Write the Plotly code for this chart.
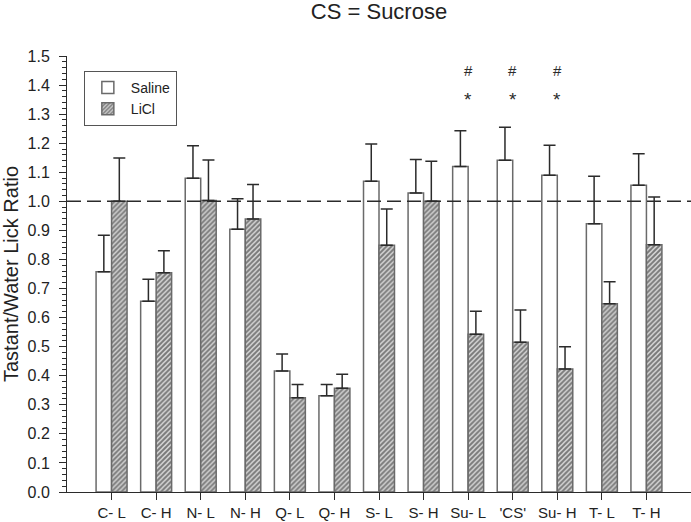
import plotly.graph_objects as go

categories = ["C- L", "C- H", "N- L", "N- H", "Q- L", "Q- H", "S- L", "S- H",
              "Su- L", "'CS'", "Su- H", "T- L", "T- H"]
saline_mean = [0.758, 0.656, 1.079, 0.904, 0.416, 0.331, 1.069, 1.029, 1.120, 1.141, 1.090, 0.923, 1.055]
saline_top = [0.883, 0.732, 1.191, 1.009, 0.475, 0.370, 1.197, 1.144, 1.243, 1.255, 1.193, 1.086, 1.164]
licl_mean = [1.000, 0.754, 1.003, 0.939, 0.324, 0.357, 0.849, 1.000, 0.543, 0.515, 0.423, 0.648, 0.851]
licl_top = [1.149, 0.830, 1.142, 1.058, 0.370, 0.405, 0.974, 1.138, 0.622, 0.626, 0.500, 0.723, 1.015]
hash_marks = ["Su- L", "'CS'", "Su- H"]
star_marks = ["Su- L", "'CS'", "Su- H"]
y_ticks = [round(i * 0.1, 1) for i in range(16)]

FONT = "Liberation Sans, Arial, sans-serif"
DARK = "#2b2b2b"
EDGE = "#6a6a6a"

fig = go.Figure()
fig.add_trace(go.Bar(
    name="Saline", x=categories, y=saline_mean,
    marker=dict(color="white", line=dict(color=EDGE, width=1.5)),
    error_y=dict(type="data", symmetric=False,
                 array=[t - m for t, m in zip(saline_top, saline_mean)],
                 arrayminus=[0] * len(saline_mean),
                 color=DARK, thickness=1.5, width=6),
))
fig.add_trace(go.Bar(
    name="LiCl", x=categories, y=licl_mean,
    marker=dict(color="white", line=dict(color=EDGE, width=1.5),
                pattern=dict(shape="/", size=3.5, solidity=0.55,
                             fgcolor="#1e1e1e", bgcolor="#d4d4d4")),
    error_y=dict(type="data", symmetric=False,
                 array=[t - m for t, m in zip(licl_top, licl_mean)],
                 arrayminus=[0] * len(licl_mean),
                 color=DARK, thickness=1.5, width=6),
))

fig.add_shape(type="line", xref="paper", x0=0, x1=1, yref="y", y0=1.0, y1=1.0,
              line=dict(color=DARK, width=1.5, dash="14px,6px"), layer="above")

for c in hash_marks:
    fig.add_annotation(x=c, y=1.449, text="#", showarrow=False,
                       font=dict(family=FONT, size=15, color=DARK))
for c in star_marks:
    fig.add_annotation(x=c, y=1.350, text="*", showarrow=False,
                       font=dict(family=FONT, size=19, color=DARK))

fig.update_layout(
    width=691, height=522,
    margin=dict(l=67, r=0, t=56, b=30),
    paper_bgcolor="white", plot_bgcolor="white",
    font=dict(family=FONT, color="#222"),
    barmode="group", bargap=0.305, bargroupgap=0,
    title=dict(text="CS = Sucrose", x=0.5, xref="paper", xanchor="center",
               y=1 - 4 / 522, yref="container", yanchor="top",
               font=dict(family=FONT, size=22, color="#222")),
    legend=dict(x=0.027, y=0.9657, xanchor="left", yanchor="top",
                bordercolor="#555", borderwidth=1, bgcolor="white",
                font=dict(family=FONT, size=14, color="#222"),
                tracegroupgap=0, itemwidth=36),
    xaxis=dict(range=[-1, 13], showline=True, linecolor=DARK, linewidth=1,
               ticks="outside", ticklen=7, tickcolor=DARK,
               tickfont=dict(family=FONT, size=15, color="#222"),
               showgrid=False, zeroline=False),
    yaxis=dict(range=[0, 1.5], tickvals=y_ticks, tickformat=".1f",
               showline=True, linecolor=DARK, linewidth=1,
               ticks="outside", ticklen=7, tickcolor=DARK,
               ticklabelstandoff=6,
               minor=dict(dtick=0.02, ticks="outside", ticklen=4, tickcolor=DARK),
               tickfont=dict(family=FONT, size=16, color="#222"),
               title=dict(text="Tastant/Water Lick Ratio",
                          font=dict(family=FONT, size=20, color="#222")),
               showgrid=False, zeroline=False),
)

fig.write_html("out.html", config={"displayModeBar": False},
               post_script="document.body.style.margin='0';document.body.style.overflow='hidden';")
